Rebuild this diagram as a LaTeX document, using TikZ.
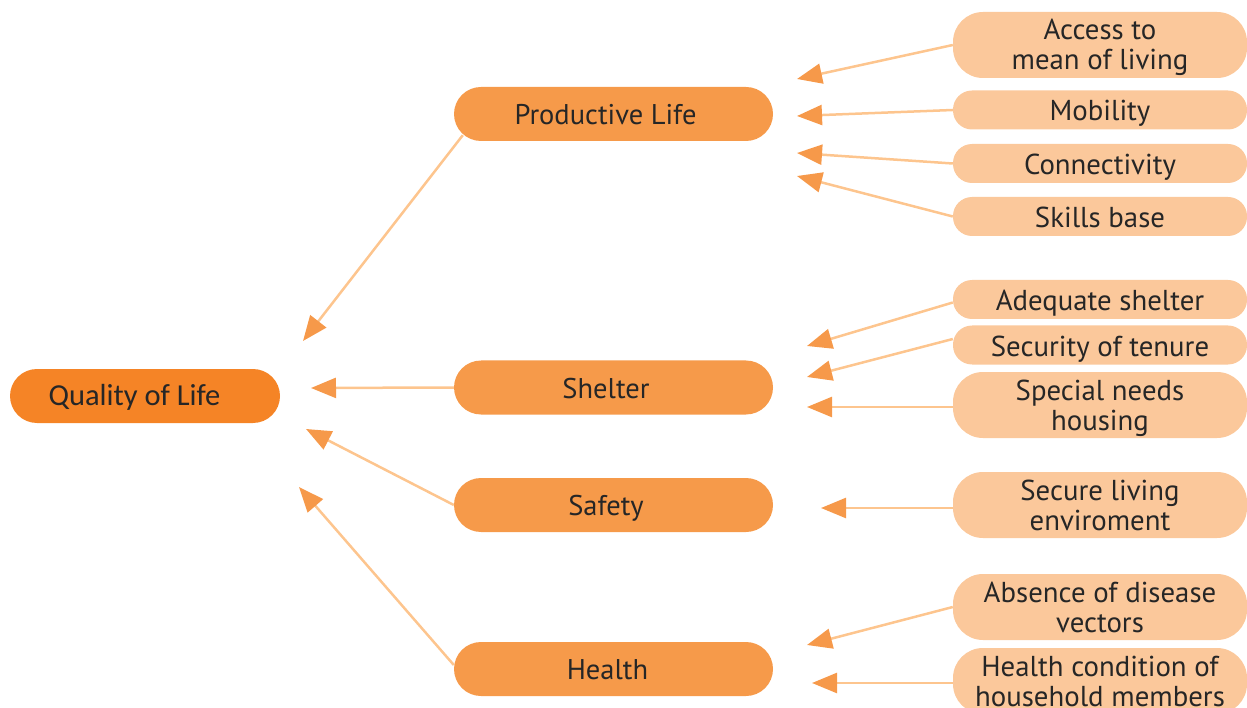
\documentclass[tikz,border=0pt]{standalone}
\usepackage{fontspec}
\setmainfont{PT Sans}
\newfontfamily\qfont{Carlito}
\usetikzlibrary{arrows.meta,calc}
\definecolor{qfill}{HTML}{F58426}
\definecolor{mfill}{HTML}{F69A4A}
\definecolor{sfill}{HTML}{FBC89B}
\definecolor{linec}{HTML}{FDC58E}
\definecolor{headc}{HTML}{F6994A}
\definecolor{txt}{HTML}{262626}
\begin{document}
\begin{tikzpicture}[x=1pt,y=-1pt,
 qbox/.style={fill=qfill, rounded corners=27pt, minimum width=270pt, minimum height=54pt, inner sep=0pt, text=txt, text height=18pt, text depth=0pt, font=\qfont\fontsize{30.5}{34}\selectfont},
 mainbox/.style={fill=mfill, rounded corners=27pt, minimum width=319pt, minimum height=54pt, inner sep=0pt, text=txt, text height=21pt, text depth=0pt, font=\fontsize{28.5}{30}\selectfont},
 subbox/.style={fill=sfill, rounded corners=19pt, minimum width=294pt, minimum height=39pt, inner sep=0pt, text=txt, align=center, text height=22pt, text depth=0pt, font=\fontsize{28.8}{30}\selectfont},
 tallbox/.style={subbox, rounded corners=30pt, minimum height=66pt, text height=50pt, text depth=0pt},
 conn/.style={draw=linec, line width=2.5pt, -{Triangle[length=25pt,width=20pt,color=headc]}}
]
\useasboundingbox (0,0) rectangle (1247,708);
\clip (0,0) rectangle (1247,708);

% main column
\node[qbox] (q) at (145,396) {Quality of Life\hspace*{21pt}};
\node[mainbox] (prod) at (613.5,114) {Productive Life\hspace*{16pt}};
\node[mainbox] (shel) at (613.5,387.5) {Shelter\hspace*{15pt}};
\node[mainbox] (safe) at (613.5,505) {Safety\hspace*{15pt}};
\node[mainbox] (heal) at (613.5,669) {Health\hspace*{12pt}};

% sub items
\node[tallbox] (acc) at (1100,45) {Access to\\mean of living};
\node[subbox] (mob) at (1100,110) {Mobility};
\node[subbox] (con) at (1100,163.5) {Connectivity};
\node[subbox] (ski) at (1100,216.5) {Skills base};
\node[subbox] (ade) at (1100,299.5) {Adequate shelter};
\node[subbox] (sec) at (1100,345) {Security of tenure};
\node[tallbox] (spe) at (1100,405) {Special needs\\housing};
\node[tallbox] (secl) at (1100,505) {Secure living\\enviroment};
\node[tallbox] (abs) at (1100,607) {Absence of disease\\vectors};
\node[tallbox] (hc) at (1100,681) {Health condition of\\household members};

% arrow tips
\coordinate (t1) at (797,79);
\coordinate (t2) at (797,116);
\coordinate (t3) at (797,153);
\coordinate (t4) at (797,176);
\coordinate (t5) at (807,346);
\coordinate (t6) at (807,377);
\coordinate (t7) at (807,407);
\coordinate (t8) at (821,508);
\coordinate (t9) at (807,645);
\coordinate (t10) at (812,683);
\coordinate (tp) at (303,341);
\coordinate (ts) at (311,388);
\coordinate (tf) at (306,429);
\coordinate (th) at (299,487);

% connectors
\draw[conn] (acc.west) -- (t1);
\draw[conn] (mob.west) -- (t2);
\draw[conn] (con.west) -- (t3);
\draw[conn] (ski.west) -- (t4);
\draw[conn] ($(ade.west)+(0,3)$) -- (t5);
\draw[conn] ($(sec.west)+(0,-6)$) -- (t6);
\draw[conn] ($(spe.west)+(0,2)$) -- (t7);
\draw[conn] ($(secl.west)+(0,3)$) -- (t8);
\draw[conn] (abs.west) -- (t9);
\draw[conn] ($(hc.west)+(0,2)$) -- (t10);
\draw[conn] ($(prod.south west)+(9,-6)$) -- (tp);
\draw[conn] (shel.west) -- (ts);
\draw[conn] (safe.west) -- (tf);
\draw[conn] ($(heal.west)+(0,-4)$) -- (th);
\end{tikzpicture}
\end{document}
